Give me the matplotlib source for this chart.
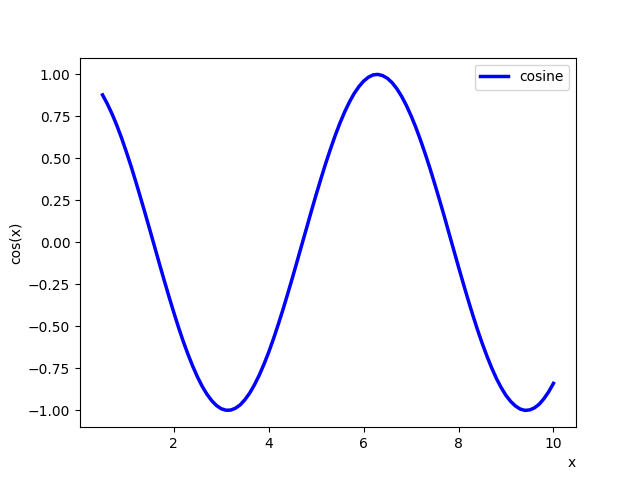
import matplotlib
matplotlib.use('Agg')
import matplotlib.pyplot as plt

# Sample positions along x (0.5 to 10.0, every 0.1).
x_values = [round(0.5 + 0.1 * i, 1) for i in range(96)]

# Curve heights at those positions.
y_values = [
    0.878, 0.825, 0.765, 0.697, 0.622, 0.540, 0.454, 0.362, 0.267, 0.170,
    0.071, -0.029, -0.129, -0.227, -0.323, -0.416, -0.505, -0.589, -0.666, -0.737,
    -0.801, -0.857, -0.904, -0.942, -0.971, -0.990, -0.999, -0.998, -0.987, -0.967,
    -0.936, -0.897, -0.848, -0.791, -0.726, -0.654, -0.575, -0.490, -0.401, -0.307,
    -0.211, -0.112, -0.012, 0.087, 0.187, 0.284, 0.378, 0.469, 0.554, 0.635,
    0.709, 0.776, 0.835, 0.886, 0.927, 0.960, 0.983, 0.997, 1.000, 0.993,
    0.977, 0.951, 0.915, 0.870, 0.816, 0.754, 0.685, 0.608, 0.526, 0.439,
    0.347, 0.252, 0.155, 0.054, -0.046, -0.146, -0.244, -0.340, -0.432, -0.520,
    -0.602, -0.678, -0.748, -0.811, -0.865, -0.911, -0.947, -0.974, -0.992, -1.000,
    -0.997, -0.985, -0.963, -0.930, -0.889, -0.839,
]

fig, ax = plt.subplots(figsize=(6.4, 4.8), dpi=100)
ax.plot(x_values, y_values, color='blue', linewidth=2.5, label='cosine')
ax.set_xlabel('x', loc='right')
ax.set_ylabel('cos(x)')
ax.legend(loc='upper right')

plt.savefig('out.png')
